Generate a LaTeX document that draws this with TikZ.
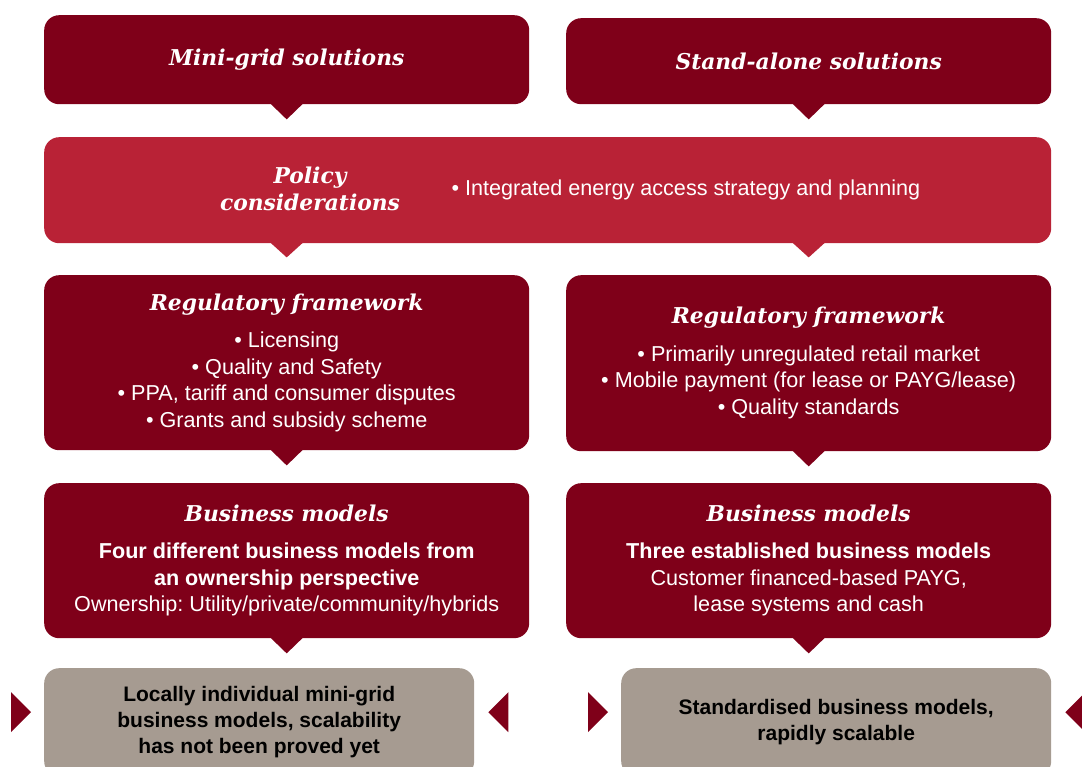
\documentclass[tikz,border=0pt]{standalone}
\usepackage{fontspec}
\setmainfont{Liberation Sans}
\newfontfamily\headfont{DejaVu Serif}
\definecolor{darkred}{HTML}{7F0019}
\definecolor{policyred}{HTML}{B92236}
\definecolor{taupe}{HTML}{A69B91}
\newcommand{\hd}[1]{{\headfont\bfseries\itshape\fontsize{21.8}{26}\selectfont #1}}
\frenchspacing

\begin{document}
\begin{tikzpicture}[x=1pt,y=-1pt]
    \tikzstyle{box}=[rounded corners=15pt,fill=darkred,text=white,inner sep=0pt,anchor=north west,align=center,font=\fontsize{21.6}{26.5}\selectfont]
    \tikzstyle{greybox}=[box,fill=taupe,text=black,font=\bfseries\fontsize{21}{26}\selectfont]
    \useasboundingbox (0,0) rectangle (1082,767);

    % top row
    \node[box,minimum width=485pt,minimum height=89pt] (mini) at (44,15) {\hd{Mini-grid solutions}};
    \node[box,minimum width=485pt,minimum height=86pt] (stand) at (566,18) {\hd{Stand-alone solutions}};

    % policy band
    \node[box,fill=policyred,minimum width=1007pt,minimum height=106pt] (policy) at (44,137) {};
    \node[text=white,align=center,font=\headfont\bfseries\itshape\fontsize{21.8}{27}\selectfont] (poltitle) at (310,189) {Policy\\considerations};
    \node[text=white,anchor=west,font=\fontsize{21.6}{26.5}\selectfont] (polbullet) at (448,190) {• Integrated energy access strategy and planning};

    % regulatory framework
    \node[box,minimum width=485pt,minimum height=175pt] (regl) at (44,275)
        {\hd{Regulatory framework}\\[11pt]
         • Licensing\\ • Quality and Safety\\ • PPA, tariff and consumer disputes\\ • Grants and subsidy scheme};
    \node[box,minimum width=485pt,minimum height=176pt] (regr) at (566,275)
        {\hd{Regulatory framework}\\[11pt]
         • Primarily unregulated retail market\\ • Mobile payment (for lease or PAYG/lease)\\ • Quality standards};

    % business models
    \node[box,minimum width=485pt,minimum height=155pt] (busl) at (44,483)
        {\hd{Business models}\\[11pt]
         \textbf{Four different business models from}\\ \textbf{an ownership perspective}\\ Ownership: Utility/private/community/hybrids};
    \node[box,minimum width=485pt,minimum height=155pt] (busr) at (566,483)
        {\hd{Business models}\\[11pt]
         \textbf{Three established business models}\\ Customer financed-based PAYG,\\ lease systems and cash};

    % outcomes
    \node[greybox,minimum width=430pt,minimum height=108pt] (gl) at (44,668)
        {Locally individual mini-grid\\ business models, scalability\\ has not been proved yet};
    \node[greybox,minimum width=430pt,minimum height=108pt] (gr) at (621,668)
        {Standardised business models,\\ rapidly scalable};

    % pointers under the boxes
    \foreach \n in {mini,stand,regl,regr,busl,busr}
        \fill[darkred] ([xshift=-16pt,yshift=0.5pt]\n.south) -- ([xshift=16pt,yshift=0.5pt]\n.south) -- ([yshift=-15pt]\n.south) -- cycle;
    \foreach \n in {mini,stand}
        \fill[policyred] ([xshift=-16pt,yshift=0.5pt]policy.south -| \n.south) -- ([xshift=16pt,yshift=0.5pt]policy.south -| \n.south) -- ([yshift=-14pt]policy.south -| \n.south) -- cycle;

    % side markers
    \foreach \n in {gl,gr} {
        \fill[darkred] ([xshift=-33pt,yshift=30pt]\n.west) -- ([xshift=-33pt,yshift=-10pt]\n.west) -- ([xshift=-13pt,yshift=10pt]\n.west) -- cycle;
        \fill[darkred] ([xshift=34pt,yshift=30pt]\n.east) -- ([xshift=34pt,yshift=-10pt]\n.east) -- ([xshift=14pt,yshift=10pt]\n.east) -- cycle;
    }
\end{tikzpicture}
\end{document}
